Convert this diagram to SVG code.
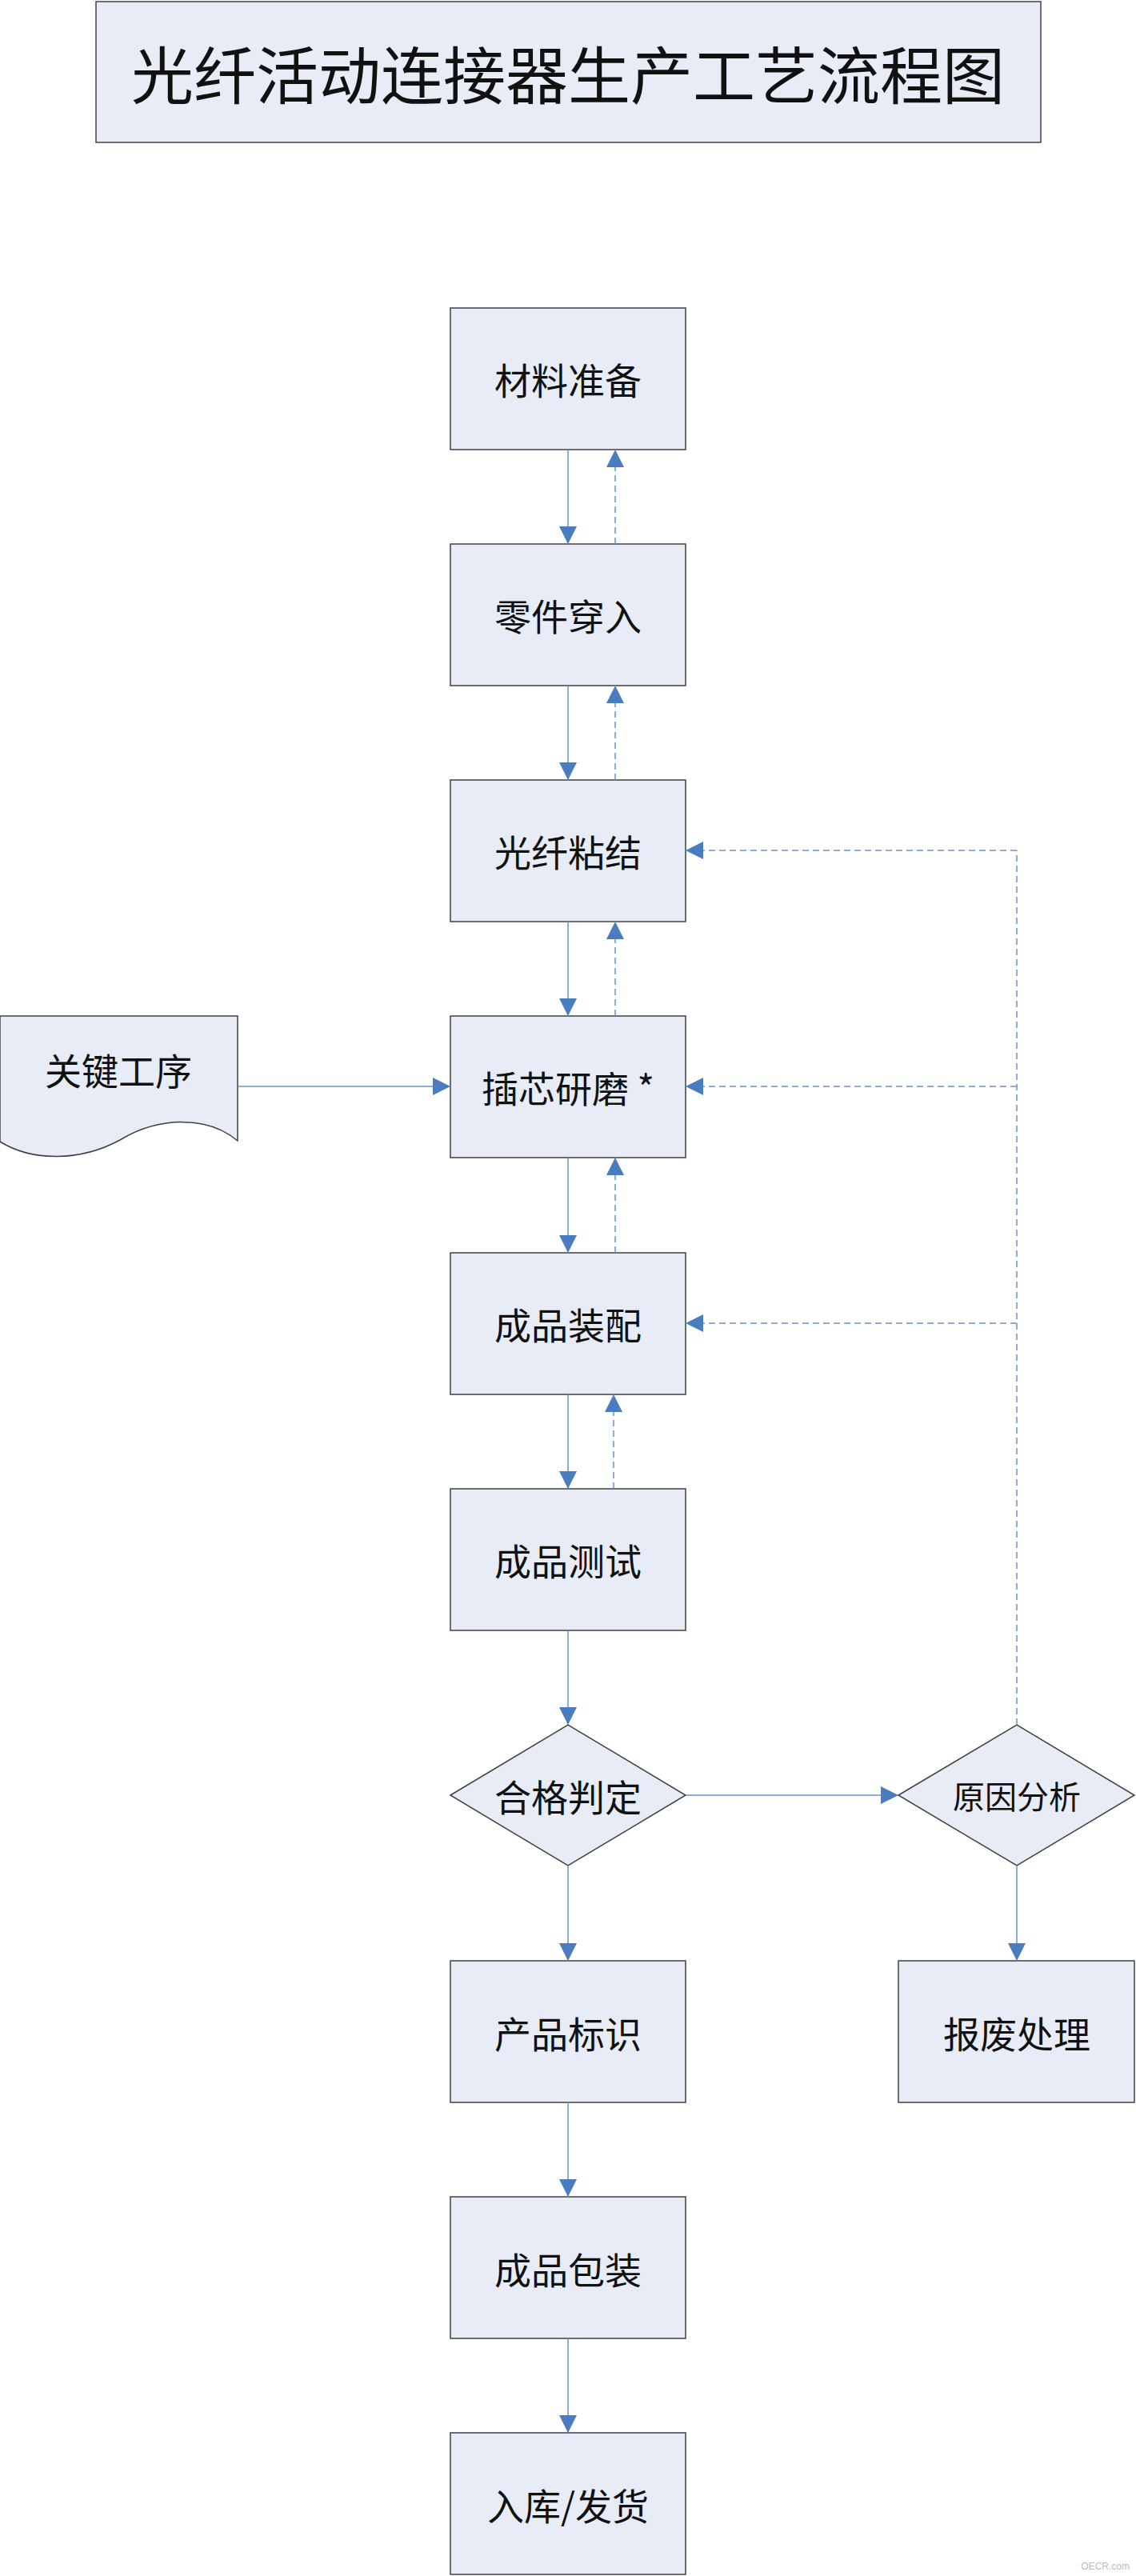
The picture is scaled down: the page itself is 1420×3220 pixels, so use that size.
<svg xmlns="http://www.w3.org/2000/svg" width="1420" height="3220" viewBox="0 0 1420 3220">
<style>
.n{fill:#e7ecf6;stroke:#404040;stroke-width:1.5}
.t{font-family:"Noto Sans CJK SC",sans-serif;font-size:46px;fill:#111;text-anchor:middle;dominant-baseline:central}
.s{stroke:#6a93c8;stroke-width:1.5;fill:none}
.d{stroke:#6a93c8;stroke-width:1.5;fill:none;stroke-dasharray:8,5}
</style>
<defs>
<marker id="a" viewBox="0 0 10 10" refX="10" refY="5" markerWidth="22" markerHeight="22" markerUnits="userSpaceOnUse" orient="auto"><path d="M0,0L10,5L0,10z" fill="#4a7cc0"/></marker>
</defs>
<rect width="1420" height="3220" fill="#fff"/>
<g id="title"><rect class="n" x="120" y="2" width="1181" height="176"/><text class="t" x="710" y="90" style="font-size:78px">光纤活动连接器生产工艺流程图</text></g>
<g id="n1"><rect class="n" x="563" y="385" width="294" height="177"/><text class="t" x="710" y="473">材料准备</text></g>
<g id="n2"><rect class="n" x="563" y="680" width="294" height="177"/><text class="t" x="710" y="768">零件穿入</text></g>
<g id="n3"><rect class="n" x="563" y="975" width="294" height="177"/><text class="t" x="710" y="1063">光纤粘结</text></g>
<g id="n4"><rect class="n" x="563" y="1270" width="294" height="177"/><text class="t" x="710" y="1358">插芯研磨 *</text></g>
<g id="n5"><rect class="n" x="563" y="1566" width="294" height="177"/><text class="t" x="710" y="1654">成品装配</text></g>
<g id="n6"><rect class="n" x="563" y="1861" width="294" height="177"/><text class="t" x="710" y="1949">成品测试</text></g>
<g id="d1"><path class="n" d="M563,2244L710,2156L857,2244L710,2332z"/><text class="t" x="710" y="2244">合格判定</text></g>
<g id="d2"><path class="n" d="M1123,2244L1271,2156L1418,2244L1271,2332z"/><text class="t" x="1271" y="2244" style="font-size:40px">原因分析</text></g>
<g id="n7"><rect class="n" x="563" y="2451" width="294" height="177"/><text class="t" x="710" y="2540">产品标识</text></g>
<g id="n8"><rect class="n" x="1123" y="2451" width="295" height="177"/><text class="t" x="1271" y="2540">报废处理</text></g>
<g id="n9"><rect class="n" x="563" y="2746" width="294" height="177"/><text class="t" x="710" y="2835">成品包装</text></g>
<g id="n10"><rect class="n" x="563" y="3041" width="294" height="177"/><text class="t" x="710" y="3130">入库/发货</text></g>
<g id="key"><path class="n" d="M0,1270H297V1426C260,1395 200,1395 150,1425C100,1452 40,1452 0,1427Z"/><text class="t" x="148" y="1336">关键工序</text></g>
<g id="connectors">
<path class="s" marker-end="url(#a)" d="M710,562V680"/>
<path class="s" marker-end="url(#a)" d="M710,857V975"/>
<path class="s" marker-end="url(#a)" d="M710,1152V1270"/>
<path class="s" marker-end="url(#a)" d="M710,1447V1566"/>
<path class="s" marker-end="url(#a)" d="M710,1743V1861"/>
<path class="s" marker-end="url(#a)" d="M710,2038V2156"/>
<path class="s" marker-end="url(#a)" d="M710,2332V2451"/>
<path class="s" marker-end="url(#a)" d="M710,2628V2746"/>
<path class="s" marker-end="url(#a)" d="M710,2923V3041"/>
<path class="s" marker-end="url(#a)" d="M1271,2332V2451"/>
<path class="s" marker-end="url(#a)" d="M857,2244H1123"/>
<path class="s" marker-end="url(#a)" d="M297,1358H563"/>
<path class="d" marker-end="url(#a)" d="M769,680V562"/>
<path class="d" marker-end="url(#a)" d="M769,975V857"/>
<path class="d" marker-end="url(#a)" d="M769,1270V1152"/>
<path class="d" marker-end="url(#a)" d="M769,1566V1447"/>
<path class="d" marker-end="url(#a)" d="M767,1861V1743"/>
<path class="d" d="M1271,2156V1063"/>
<path class="d" marker-end="url(#a)" d="M1271,1063H857"/>
<path class="d" marker-end="url(#a)" d="M1271,1358H857"/>
<path class="d" marker-end="url(#a)" d="M1271,1654H857"/>
</g>
<text x="1412" y="3212" style="font-family:'Liberation Sans',sans-serif;font-size:12px;fill:#bbb;text-anchor:end">OECR.com</text>
</svg>
